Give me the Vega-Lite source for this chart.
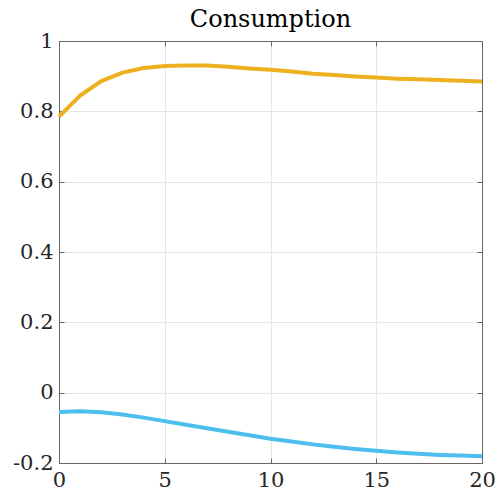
{
  "$schema": "https://vega.github.io/schema/vega-lite/v6.json",
  "width": 423,
  "height": 422,
  "autosize": {"type": "none"},
  "padding": {"left": 59, "top": 41, "right": 15, "bottom": 34},
  "background": "white",
  "title": {"text": "Consumption", "font": "DejaVu Serif", "fontSize": 24, "fontWeight": "normal", "color": "#000000", "anchor": "middle", "offset": -2},
  "config": {
    "view": {"stroke": null},
    "axis": {"labelFont": "DejaVu Serif", "labelFontSize": 21, "labelColor": "#262626", "domainColor": "#666666", "tickColor": "#666666", "gridColor": "#e6e6e6", "gridWidth": 1, "titleFontSize": 0}
  },
  "data": {"values": [
    {"t": 0, "v": 0.785, "s": "A"}, {"t": 1, "v": 0.845, "s": "A"}, {"t": 2, "v": 0.886, "s": "A"}, {"t": 3, "v": 0.910, "s": "A"}, {"t": 4, "v": 0.923, "s": "A"}, {"t": 5, "v": 0.929, "s": "A"}, {"t": 6, "v": 0.930, "s": "A"}, {"t": 7, "v": 0.930, "s": "A"}, {"t": 8, "v": 0.927, "s": "A"}, {"t": 9, "v": 0.922, "s": "A"}, {"t": 10, "v": 0.918, "s": "A"}, {"t": 11, "v": 0.913, "s": "A"}, {"t": 12, "v": 0.907, "s": "A"}, {"t": 13, "v": 0.903, "s": "A"}, {"t": 14, "v": 0.899, "s": "A"}, {"t": 15, "v": 0.896, "s": "A"}, {"t": 16, "v": 0.893, "s": "A"}, {"t": 17, "v": 0.891, "s": "A"}, {"t": 18, "v": 0.889, "s": "A"}, {"t": 19, "v": 0.887, "s": "A"}, {"t": 20, "v": 0.885, "s": "A"},
    {"t": 0, "v": -0.055, "s": "B"}, {"t": 1, "v": -0.053, "s": "B"}, {"t": 2, "v": -0.056, "s": "B"}, {"t": 3, "v": -0.062, "s": "B"}, {"t": 4, "v": -0.071, "s": "B"}, {"t": 5, "v": -0.081, "s": "B"}, {"t": 6, "v": -0.091, "s": "B"}, {"t": 7, "v": -0.101, "s": "B"}, {"t": 8, "v": -0.111, "s": "B"}, {"t": 9, "v": -0.121, "s": "B"}, {"t": 10, "v": -0.131, "s": "B"}, {"t": 11, "v": -0.139, "s": "B"}, {"t": 12, "v": -0.147, "s": "B"}, {"t": 13, "v": -0.154, "s": "B"}, {"t": 14, "v": -0.160, "s": "B"}, {"t": 15, "v": -0.165, "s": "B"}, {"t": 16, "v": -0.170, "s": "B"}, {"t": 17, "v": -0.174, "s": "B"}, {"t": 18, "v": -0.177, "s": "B"}, {"t": 19, "v": -0.179, "s": "B"}, {"t": 20, "v": -0.181, "s": "B"}
  ]},
  "resolve": {"axis": {"x": "independent", "y": "independent"}},
  "layer": [
    {
      "mark": {"type": "line", "strokeWidth": 4, "opacity": 0},
      "encoding": {
        "x": {"field": "t", "type": "quantitative", "scale": {"domain": [0, 20], "nice": false}, "axis": {"orient": "top", "values": [0, 5, 10, 15, 20], "labels": false, "grid": false, "tickSize": -5, "title": null}},
        "y": {"field": "v", "type": "quantitative", "scale": {"domain": [-0.2, 1], "nice": false, "zero": false}, "axis": {"orient": "right", "values": [-0.2, 0, 0.2, 0.4, 0.6, 0.8, 1], "labels": false, "grid": false, "tickSize": -5, "title": null}},
        "detail": {"field": "s", "type": "nominal"}
      }
    },
    {
      "mark": {"type": "line", "strokeWidth": 4},
      "encoding": {
        "x": {"field": "t", "type": "quantitative", "axis": {"orient": "bottom", "values": [0, 5, 10, 15, 20], "grid": true, "tickSize": -5, "labelPadding": 11, "title": null, "labelFlush": false, "labelFont": "DejaVu Serif", "labelFontSize": 21, "labelColor": "#262626"}},
        "y": {"field": "v", "type": "quantitative", "axis": {"orient": "left", "values": [-0.2, 0, 0.2, 0.4, 0.6, 0.8, 1], "grid": true, "tickSize": -5, "labelPadding": 11, "title": null, "format": "~g", "labelExpr": "replace(datum.label, '\u2212', '-')", "labelFont": "DejaVu Serif", "labelFontSize": 21, "labelColor": "#262626"}},
        "color": {"field": "s", "type": "nominal", "scale": {"domain": ["A", "B"], "range": ["#EDB120", "#4DBEEE"]}, "legend": null}
      }
    }
  ]
}
